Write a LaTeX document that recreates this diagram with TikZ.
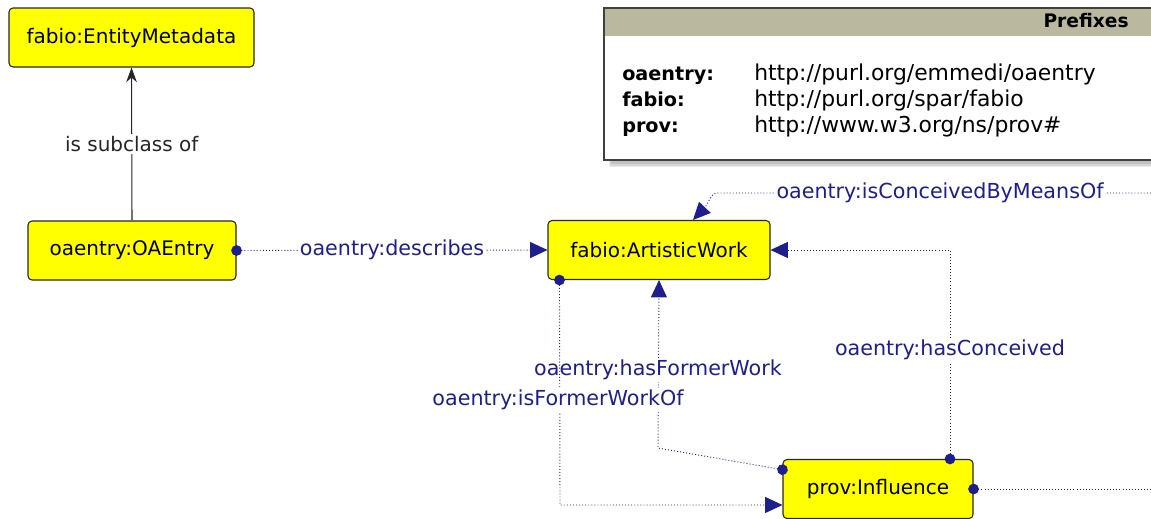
\documentclass[tikz,border=0pt]{standalone}
\usepackage{fontspec}
\setmainfont{DejaVu Sans}
\usetikzlibrary{arrows.meta}
\definecolor{navy}{RGB}{30,30,140}
\definecolor{hdr}{RGB}{186,185,160}
\definecolor{nodeyellow}{RGB}{255,255,0}
\begin{document}
\begin{tikzpicture}[x=0.75pt,y=-0.75pt,
  cls/.style={draw=black!85, fill=nodeyellow, rounded corners=3pt, line width=0.8pt,
    minimum height=44.25pt, inner sep=0pt, font=\fontsize{15}{17}\selectfont},
  prop/.style={navy, line width=0.7pt, dash pattern=on 0.7pt off 1.6pt},
  tri/.style={-{Triangle[length=13pt,width=12pt]}},
  dottri/.style={{Circle[length=8pt]}-{Triangle[length=13pt,width=12pt]}, shorten <=-4pt},
  dotstart/.style={{Circle[length=8pt]}-, shorten <=-4pt},
  elab/.style={fill=white, text=navy, inner sep=1.5pt, font=\fontsize{15.5}{17}\selectfont},
  sublab/.style={fill=white, text=black!85, inner sep=1.5pt, font=\fontsize{15}{17}\selectfont},
  pfx/.style={anchor=west, inner sep=0pt, text height=11pt, text depth=3pt, font=\fontsize{16.4}{18}\selectfont},
  pfxb/.style={pfx, font=\fontsize{14.4}{18}\selectfont\bfseries}
]
\useasboundingbox (0,0) rectangle (1151,518);
% prefixes box with soft shadow
\fill[black!8] (609,12) rectangle (1175,167);
\fill[black!16] (610,12) rectangle (1175,165.5);
\fill[black!24] (611,12) rectangle (1175,164);
\draw[black!75, fill=white, line width=0.8pt] (604,8) rectangle (1170,160);
\fill[hdr] (604.6,8.6) rectangle (1170,36);
\draw[black!75, line width=0.8pt] (604,8) rectangle (1170,160);
\node[pfxb, anchor=east, font=\fontsize{14}{18}\selectfont\bfseries] (ptitle) at (1129,22) {Prefixes};
\node[pfxb] (k1) at (622,75) {oaentry:};
\node[pfxb] (k2) at (622,101) {fabio:};
\node[pfxb] (k3) at (622,127) {prov:};
\node[pfx] (v1) at (754,75) {http://purl.org/emmedi/oaentry};
\node[pfx] (v2) at (754,101) {http://purl.org/spar/fabio};
\node[pfx] (v3) at (754,127) {http://www.w3.org/ns/prov\#};

% class nodes
\node[cls, minimum width=183.75pt] (em) at (131.5,37.5) {fabio:EntityMetadata};
\node[cls, minimum width=156pt] (oa) at (132,250.5) {oaentry:OAEntry};
\node[cls, minimum width=166.5pt] (aw) at (659,250) {fabio:ArtisticWork};
\node[cls, minimum width=142.5pt] (inf) at (878,489) {prov:Influence};

% free ends
\coordinate (rc) at (1160,193);
\coordinate (ri) at (1160,489);

% subclass
\draw[black!85, line width=0.8pt, -{Stealth[length=11pt,width=8pt,inset=3.5pt]}] (oa.north) -- (em.south)
  node[sublab, pos=0.5] {is subclass of};

% describes
\draw[prop, dottri] (oa.east) -- (aw.west) node[elab, pos=0.5] {oaentry:describes};

% isConceivedByMeansOf
\draw[prop, tri] (rc) -- (718,193) .. controls (710,193) and (709,203) .. ([xshift=25.5pt]aw.north);
\node[elab, inner sep=1pt] (lc) at (940,193) {oaentry:isConceivedByMeansOf};

% hasConceived
\draw[prop, dottri] ([xshift=54pt]inf.north) -- (950,250) -- (aw.east);
\node[elab] (lhc) at (950,350) {oaentry:hasConceived};

% hasFormerWork
\draw[prop, dottri] ([yshift=-8pt]inf.north west) -- (658,448) -- (aw.south);
\node[elab] (lhf) at (658,370) {oaentry:hasFormerWork};

% isFormerWorkOf
\draw[prop, dottri] ([xshift=9pt]aw.south west) -- (560,505) -- ([yshift=-12pt]inf.west);
\node[elab] (lif) at (558,400) {oaentry:isFormerWorkOf};

% influence to the right
\draw[prop, dotstart] (inf.east) -- (ri);
\end{tikzpicture}
\end{document}
